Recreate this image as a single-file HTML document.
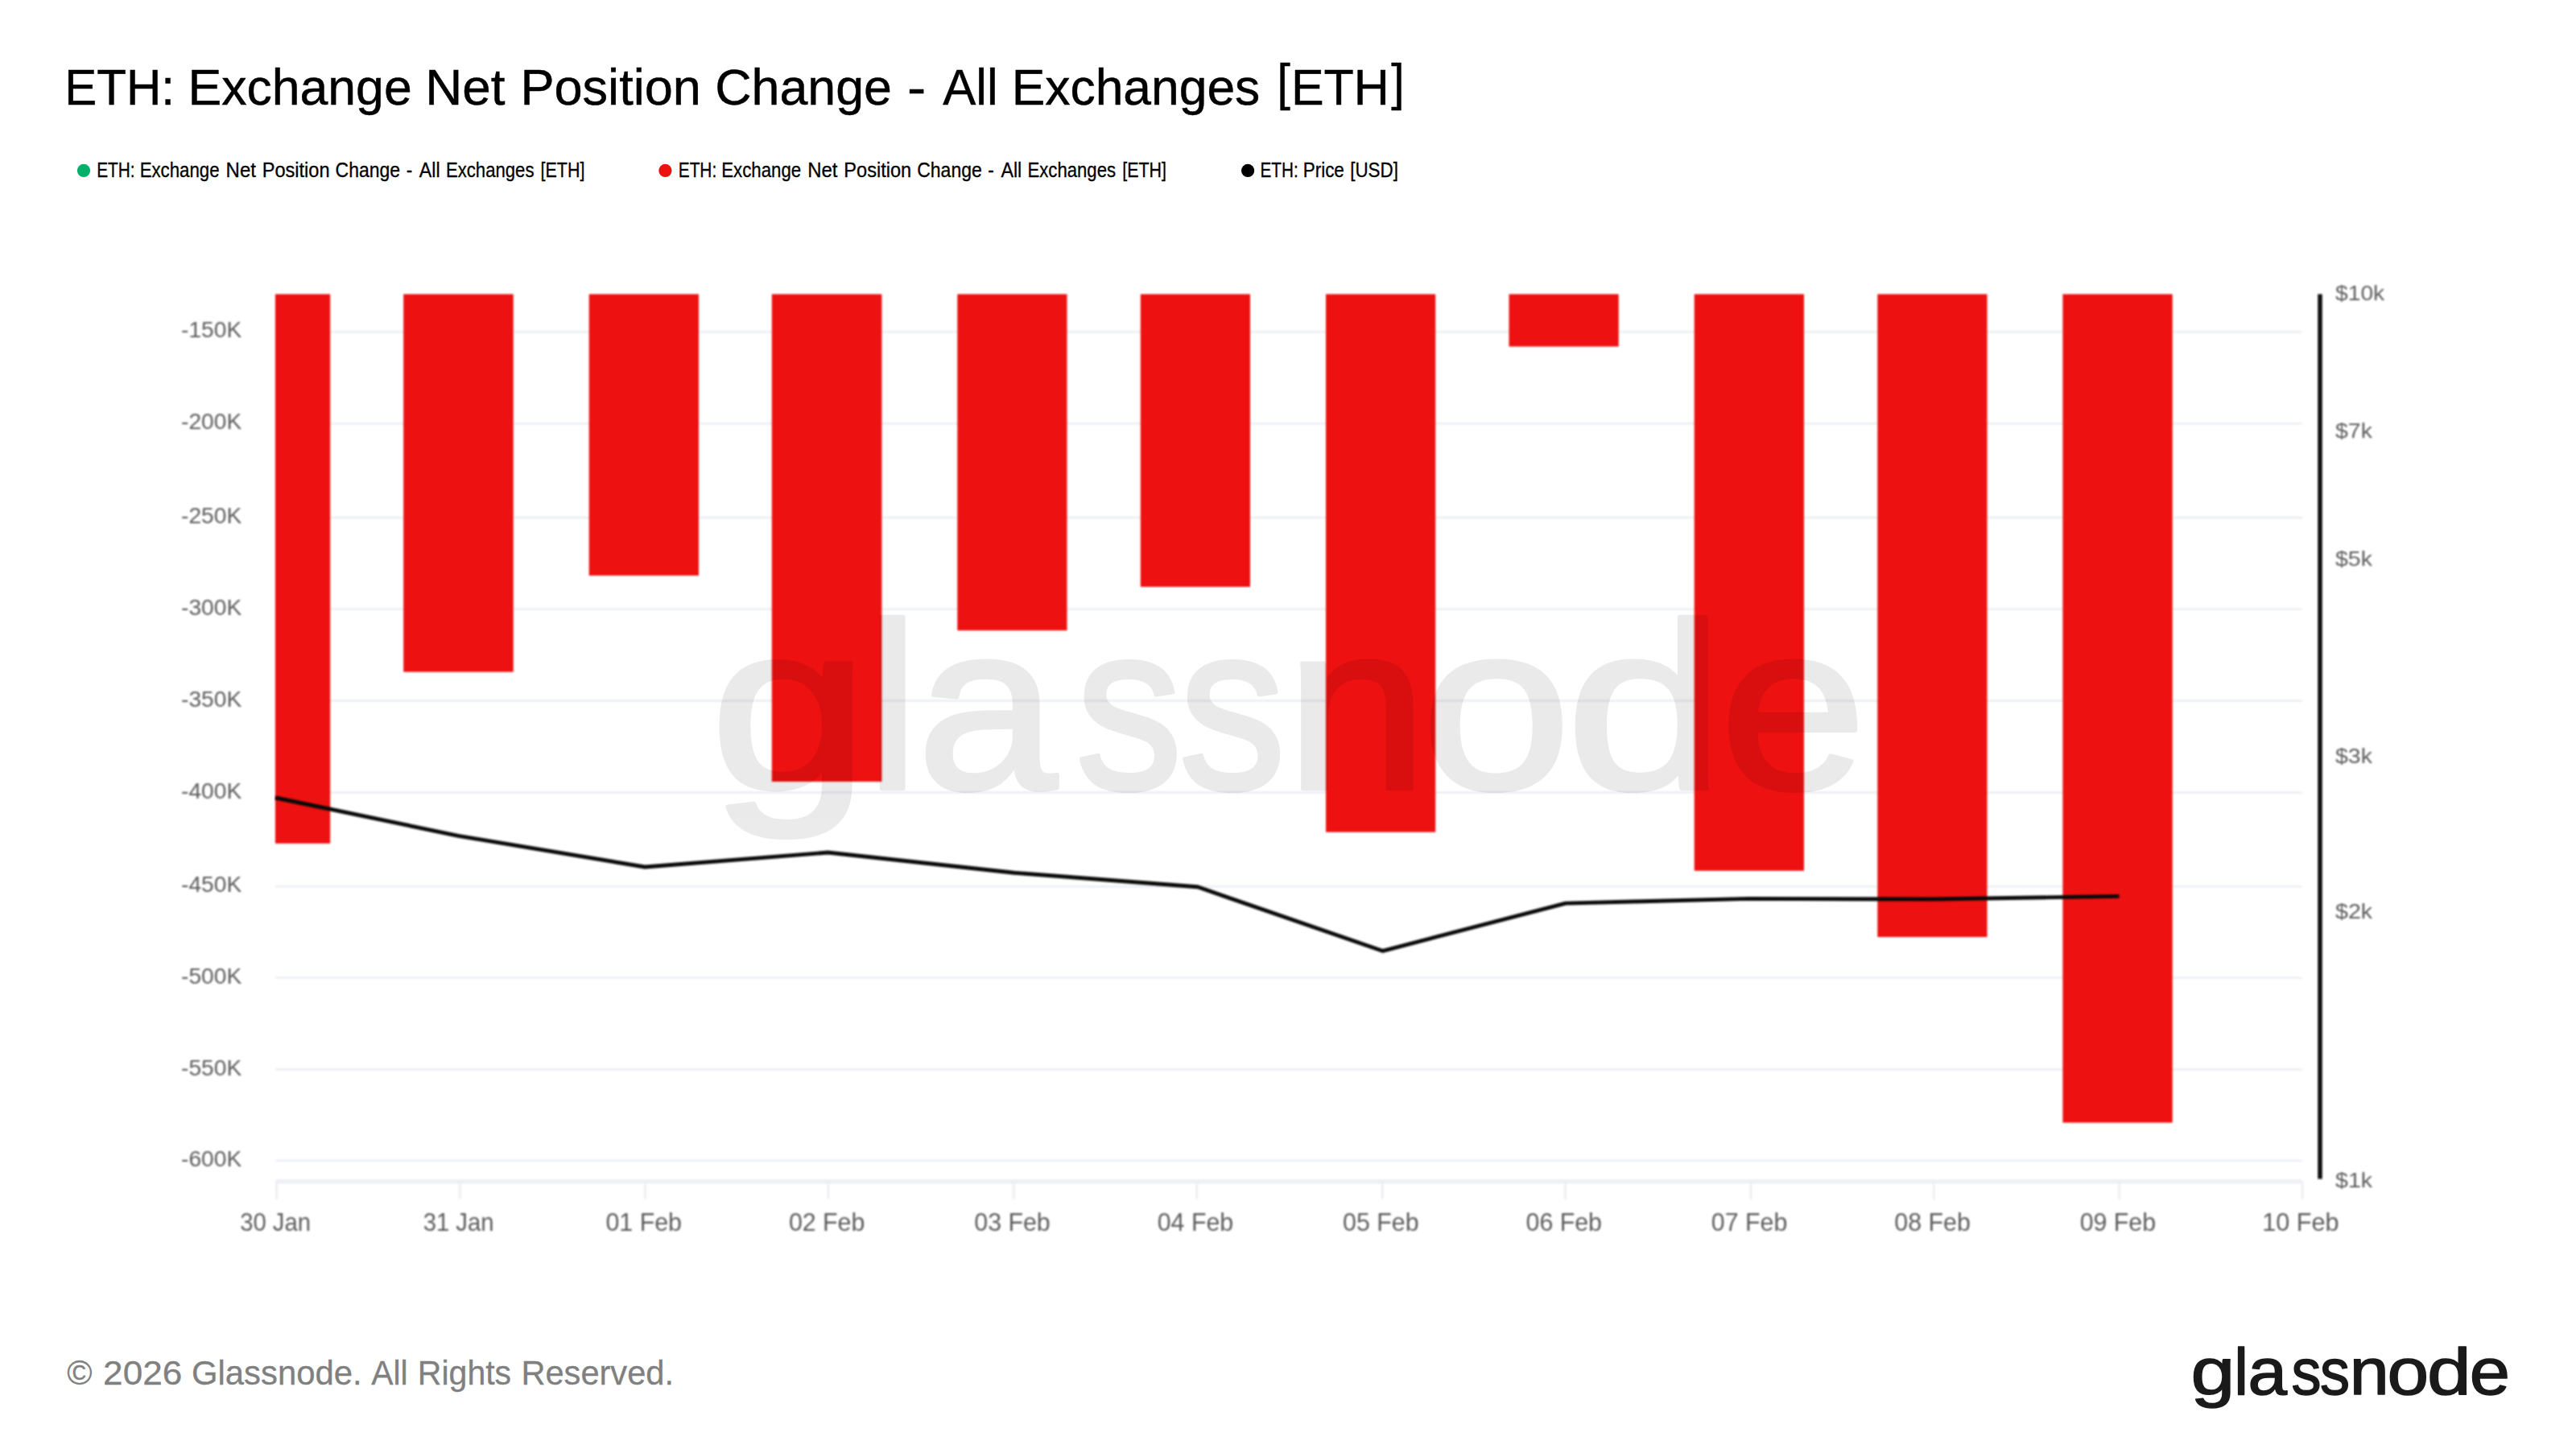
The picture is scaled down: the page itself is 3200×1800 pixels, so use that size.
<!DOCTYPE html>
<html lang="en"><head><meta charset="utf-8"><title>ETH: Exchange Net Position Change - All Exchanges [ETH]</title>
<style>
html,body{margin:0;padding:0;background:#fff;}
body{width:3200px;height:1800px;overflow:hidden;position:relative;font-family:"Liberation Sans",sans-serif;}
svg{position:absolute;left:0;top:0;display:block;}
text{font-family:"Liberation Sans",sans-serif;white-space:pre;}
.ax{filter:url(#soft);}
</style></head><body>
<svg width="3200" height="1800" viewBox="0 0 3200 1800">
<defs><filter id="soft" color-interpolation-filters="sRGB" x="-5%" y="-20%" width="110%" height="140%"><feGaussianBlur stdDeviation="1.0"/></filter>
<clipPath id="wmclip"><rect x="800" y="700" width="1700" height="343.5"/></clipPath>
<filter id="soft3" color-interpolation-filters="sRGB" x="-1%" y="-5%" width="102%" height="110%"><feGaussianBlur stdDeviation="0.8"/></filter>
<filter id="soft2" color-interpolation-filters="sRGB" x="-1%" y="-1%" width="102%" height="102%"><feGaussianBlur stdDeviation="0.85"/></filter></defs>
<rect width="3200" height="1800" fill="#fff"/>
<!-- title -->
<text y="129.9" font-size="63.3" fill="#000" stroke="#000" stroke-width="0.5"><tspan x="80.26" y="129.9" textLength="136.66" lengthAdjust="spacingAndGlyphs">ETH:</tspan> <tspan x="233.46" y="129.9" textLength="278.24" lengthAdjust="spacingAndGlyphs">Exchange</tspan> <tspan x="528.26" y="129.9" textLength="99.24" lengthAdjust="spacingAndGlyphs">Net</tspan> <tspan x="646.42" y="129.9" textLength="224.46" lengthAdjust="spacingAndGlyphs">Position</tspan> <tspan x="888.33" y="129.9" textLength="219.58" lengthAdjust="spacingAndGlyphs">Change</tspan> <tspan x="1127.10" y="129.9" textLength="23.20" lengthAdjust="spacingAndGlyphs">-</tspan> <tspan x="1171.30" y="129.9" textLength="68.43" lengthAdjust="spacingAndGlyphs">All</tspan> <tspan x="1256.78" y="129.9" textLength="308.48" lengthAdjust="spacingAndGlyphs">Exchanges</tspan> <tspan x="1586.48" y="124.1" textLength="16.38" lengthAdjust="spacingAndGlyphs">[</tspan><tspan x="1603.99" y="129.9" textLength="121.85" lengthAdjust="spacingAndGlyphs">ETH</tspan><tspan x="1728.20" y="124.1" textLength="16.38" lengthAdjust="spacingAndGlyphs">]</tspan></text>
<!-- legend -->
<circle cx="104.0" cy="211.9" r="8.1" fill="#00b06b"/><text y="219.6" font-size="25.4" fill="#000" stroke="#000" stroke-width="0.3"><tspan x="120.16" textLength="47.45" lengthAdjust="spacingAndGlyphs">ETH:</tspan> <tspan x="173.65" textLength="98.87" lengthAdjust="spacingAndGlyphs">Exchange</tspan> <tspan x="280.62" textLength="37.23" lengthAdjust="spacingAndGlyphs">Net</tspan> <tspan x="325.74" textLength="83.80" lengthAdjust="spacingAndGlyphs">Position</tspan> <tspan x="416.59" textLength="80.57" lengthAdjust="spacingAndGlyphs">Change</tspan> <tspan x="504.71" textLength="7.50" lengthAdjust="spacingAndGlyphs">-</tspan> <tspan x="520.80" textLength="25.81" lengthAdjust="spacingAndGlyphs">All</tspan> <tspan x="553.96" textLength="109.50" lengthAdjust="spacingAndGlyphs">Exchanges</tspan> <tspan x="671.61" textLength="54.78" lengthAdjust="spacingAndGlyphs">[ETH]</tspan></text>
<circle cx="826.4" cy="211.9" r="8.1" fill="#ed1111"/><text y="219.6" font-size="25.4" fill="#000" stroke="#000" stroke-width="0.3"><tspan x="842.76" textLength="47.45" lengthAdjust="spacingAndGlyphs">ETH:</tspan> <tspan x="896.25" textLength="98.87" lengthAdjust="spacingAndGlyphs">Exchange</tspan> <tspan x="1003.22" textLength="37.23" lengthAdjust="spacingAndGlyphs">Net</tspan> <tspan x="1048.34" textLength="83.80" lengthAdjust="spacingAndGlyphs">Position</tspan> <tspan x="1139.19" textLength="80.57" lengthAdjust="spacingAndGlyphs">Change</tspan> <tspan x="1227.31" textLength="7.50" lengthAdjust="spacingAndGlyphs">-</tspan> <tspan x="1243.40" textLength="25.81" lengthAdjust="spacingAndGlyphs">All</tspan> <tspan x="1276.56" textLength="109.50" lengthAdjust="spacingAndGlyphs">Exchanges</tspan> <tspan x="1394.21" textLength="54.78" lengthAdjust="spacingAndGlyphs">[ETH]</tspan></text>
<circle cx="1550.1" cy="211.9" r="8.1" fill="#000"/><text y="219.6" font-size="25.4" fill="#000" stroke="#000" stroke-width="0.3"><tspan x="1565.57" textLength="47.13" lengthAdjust="spacingAndGlyphs">ETH:</tspan> <tspan x="1618.73" textLength="51.13" lengthAdjust="spacingAndGlyphs">Price</tspan> <tspan x="1677.24" textLength="59.68" lengthAdjust="spacingAndGlyphs">[USD]</tspan></text>
<!-- plot -->
<g filter="url(#soft2)">
<rect x="342" y="410.9" width="2517.5" height="2.85" fill="#edeff4"/>
<rect x="342" y="524.8" width="2517.5" height="2.85" fill="#edeff4"/>
<rect x="342" y="641.5" width="2517.5" height="2.85" fill="#edeff4"/>
<rect x="342" y="755.2" width="2517.5" height="2.85" fill="#edeff4"/>
<rect x="342" y="869.1" width="2517.5" height="2.85" fill="#edeff4"/>
<rect x="342" y="983.0" width="2517.5" height="2.85" fill="#edeff4"/>
<rect x="342" y="1099.8" width="2517.5" height="2.85" fill="#edeff4"/>
<rect x="342" y="1213.2" width="2517.5" height="2.85" fill="#edeff4"/>
<rect x="342" y="1327.0" width="2517.5" height="2.85" fill="#edeff4"/>
<rect x="342" y="1440.4" width="2517.5" height="2.85" fill="#edeff4"/>
<rect x="342" y="1464.9" width="2517.5" height="5.6" fill="#eef0f4"/>
<rect x="342.3" y="1468" width="2.8" height="22" fill="#eeeef1"/>
<rect x="569.8" y="1468" width="2.8" height="22" fill="#eeeef1"/>
<rect x="800.1" y="1468" width="2.8" height="22" fill="#eeeef1"/>
<rect x="1027.5" y="1468" width="2.8" height="22" fill="#eeeef1"/>
<rect x="1257.9" y="1468" width="2.8" height="22" fill="#eeeef1"/>
<rect x="1485.3" y="1468" width="2.8" height="22" fill="#eeeef1"/>
<rect x="1715.7" y="1468" width="2.8" height="22" fill="#eeeef1"/>
<rect x="1943.1" y="1468" width="2.8" height="22" fill="#eeeef1"/>
<rect x="2173.5" y="1468" width="2.8" height="22" fill="#eeeef1"/>
<rect x="2400.9" y="1468" width="2.8" height="22" fill="#eeeef1"/>
<rect x="2631.3" y="1468" width="2.8" height="22" fill="#eeeef1"/>
<rect x="2858.8" y="1468" width="2.8" height="22" fill="#eeeef1"/>
<rect x="341.9" y="365.4" width="68.3" height="682.4" fill="#ed1111"/>
<rect x="501.2" y="365.4" width="136.5" height="469.3" fill="#ed1111"/>
<rect x="731.7" y="365.4" width="136.3" height="349.6" fill="#ed1111"/>
<rect x="958.8" y="365.4" width="136.6" height="605.6" fill="#ed1111"/>
<rect x="1189.3" y="365.4" width="136.2" height="417.8" fill="#ed1111"/>
<rect x="1416.8" y="365.4" width="136.2" height="363.6" fill="#ed1111"/>
<rect x="1647.0" y="365.4" width="136.2" height="668.3" fill="#ed1111"/>
<rect x="1874.5" y="365.4" width="136.2" height="65.1" fill="#ed1111"/>
<rect x="2104.7" y="365.4" width="136.3" height="716.3" fill="#ed1111"/>
<rect x="2332.3" y="365.4" width="136.2" height="798.6" fill="#ed1111"/>
<rect x="2562.4" y="365.4" width="136.3" height="1029.2" fill="#ed1111"/>
<rect x="2879.2" y="365.4" width="5.6" height="1099.1" fill="#111"/>
</g>
<!-- watermark -->
<g opacity="0.08" clip-path="url(#wmclip)"><text y="979.5" font-size="294" fill="#000" stroke="#000" stroke-width="5.5" stroke-linejoin="round"><tspan x="881.93" textLength="197.29" lengthAdjust="spacingAndGlyphs">g</tspan><tspan x="1075.36" textLength="66.46" lengthAdjust="spacingAndGlyphs">l</tspan><tspan x="1139.31" textLength="173.64" lengthAdjust="spacingAndGlyphs">a</tspan><tspan x="1336.08" textLength="132.82" lengthAdjust="spacingAndGlyphs">s</tspan><tspan x="1464.41" textLength="132.82" lengthAdjust="spacingAndGlyphs">s</tspan><tspan x="1597.08" textLength="176.00" lengthAdjust="spacingAndGlyphs">n</tspan><tspan x="1765.67" textLength="186.06" lengthAdjust="spacingAndGlyphs">o</tspan><tspan x="1945.17" textLength="196.86" lengthAdjust="spacingAndGlyphs">d</tspan><tspan x="2136.37" textLength="182.38" lengthAdjust="spacingAndGlyphs">e</tspan></text>
</g>
<polyline points="342.2,991.0 569.5,1038.3 801.2,1077.0 1028.6,1059.0 1260.1,1084.2 1487.8,1101.8 1717.5,1181.3 1944.8,1122.1 2172.5,1116.4 2401.2,1117.0 2632.5,1113.4" fill="none" stroke="#0a0a0a" stroke-width="4.9" stroke-linejoin="round" filter="url(#soft3)"/>
<!-- axis labels -->
<text class="ax" x="225.10" y="419.4" font-size="28.2" fill="#5c5c5c" textLength="75.12" lengthAdjust="spacingAndGlyphs">-150K</text>
<text class="ax" x="225.10" y="533.3" font-size="28.2" fill="#5c5c5c" textLength="75.12" lengthAdjust="spacingAndGlyphs">-200K</text>
<text class="ax" x="225.10" y="650.0" font-size="28.2" fill="#5c5c5c" textLength="75.12" lengthAdjust="spacingAndGlyphs">-250K</text>
<text class="ax" x="225.10" y="763.7" font-size="28.2" fill="#5c5c5c" textLength="75.12" lengthAdjust="spacingAndGlyphs">-300K</text>
<text class="ax" x="225.10" y="877.6" font-size="28.2" fill="#5c5c5c" textLength="75.12" lengthAdjust="spacingAndGlyphs">-350K</text>
<text class="ax" x="225.10" y="991.5" font-size="28.2" fill="#5c5c5c" textLength="75.12" lengthAdjust="spacingAndGlyphs">-400K</text>
<text class="ax" x="225.10" y="1108.3" font-size="28.2" fill="#5c5c5c" textLength="75.12" lengthAdjust="spacingAndGlyphs">-450K</text>
<text class="ax" x="225.10" y="1221.7" font-size="28.2" fill="#5c5c5c" textLength="75.12" lengthAdjust="spacingAndGlyphs">-500K</text>
<text class="ax" x="225.10" y="1335.5" font-size="28.2" fill="#5c5c5c" textLength="75.12" lengthAdjust="spacingAndGlyphs">-550K</text>
<text class="ax" x="225.10" y="1448.9" font-size="28.2" fill="#5c5c5c" textLength="75.12" lengthAdjust="spacingAndGlyphs">-600K</text>
<text class="ax" x="298.19" y="1529.3" font-size="32.0" fill="#5c5c5c" textLength="87.81" lengthAdjust="spacingAndGlyphs">30 Jan</text>
<text class="ax" x="525.64" y="1529.3" font-size="32.0" fill="#5c5c5c" textLength="87.81" lengthAdjust="spacingAndGlyphs">31 Jan</text>
<text class="ax" x="752.45" y="1529.3" font-size="32.0" fill="#5c5c5c" textLength="94.49" lengthAdjust="spacingAndGlyphs">01 Feb</text>
<text class="ax" x="979.90" y="1529.3" font-size="32.0" fill="#5c5c5c" textLength="94.49" lengthAdjust="spacingAndGlyphs">02 Feb</text>
<text class="ax" x="1210.25" y="1529.3" font-size="32.0" fill="#5c5c5c" textLength="94.49" lengthAdjust="spacingAndGlyphs">03 Feb</text>
<text class="ax" x="1437.70" y="1529.3" font-size="32.0" fill="#5c5c5c" textLength="94.49" lengthAdjust="spacingAndGlyphs">04 Feb</text>
<text class="ax" x="1668.05" y="1529.3" font-size="32.0" fill="#5c5c5c" textLength="94.49" lengthAdjust="spacingAndGlyphs">05 Feb</text>
<text class="ax" x="1895.50" y="1529.3" font-size="32.0" fill="#5c5c5c" textLength="94.49" lengthAdjust="spacingAndGlyphs">06 Feb</text>
<text class="ax" x="2125.85" y="1529.3" font-size="32.0" fill="#5c5c5c" textLength="94.49" lengthAdjust="spacingAndGlyphs">07 Feb</text>
<text class="ax" x="2353.30" y="1529.3" font-size="32.0" fill="#5c5c5c" textLength="94.49" lengthAdjust="spacingAndGlyphs">08 Feb</text>
<text class="ax" x="2583.65" y="1529.3" font-size="32.0" fill="#5c5c5c" textLength="94.49" lengthAdjust="spacingAndGlyphs">09 Feb</text>
<text class="ax" x="2810.13" y="1529.3" font-size="32.0" fill="#5c5c5c" textLength="95.47" lengthAdjust="spacingAndGlyphs">10 Feb</text>
<text class="ax" x="2901.04" y="373.4" font-size="26.5" fill="#5c5c5c" textLength="61.16" lengthAdjust="spacingAndGlyphs">$10k</text>
<text class="ax" x="2901.03" y="544.0" font-size="26.5" fill="#5c5c5c" textLength="45.86" lengthAdjust="spacingAndGlyphs">$7k</text>
<text class="ax" x="2901.03" y="703.4" font-size="26.5" fill="#5c5c5c" textLength="45.86" lengthAdjust="spacingAndGlyphs">$5k</text>
<text class="ax" x="2901.03" y="948.0" font-size="26.5" fill="#5c5c5c" textLength="45.86" lengthAdjust="spacingAndGlyphs">$3k</text>
<text class="ax" x="2901.02" y="1141.4" font-size="26.5" fill="#5c5c5c" textLength="46.07" lengthAdjust="spacingAndGlyphs">$2k</text>
<text class="ax" x="2901.02" y="1474.7" font-size="26.5" fill="#5c5c5c" textLength="46.07" lengthAdjust="spacingAndGlyphs">$1k</text>
<!-- footer -->
<text y="1719.8" font-size="42.0" fill="#808080" stroke="#808080" stroke-width="0.3"><tspan x="83.20" textLength="31.26" lengthAdjust="spacingAndGlyphs">©</tspan> <tspan x="128.10" textLength="98.21" lengthAdjust="spacingAndGlyphs">2026</tspan> <tspan x="238.01" textLength="211.65" lengthAdjust="spacingAndGlyphs">Glassnode.</tspan> <tspan x="461.30" textLength="45.41" lengthAdjust="spacingAndGlyphs">All</tspan> <tspan x="518.87" textLength="116.27" lengthAdjust="spacingAndGlyphs">Rights</tspan> <tspan x="647.43" textLength="189.56" lengthAdjust="spacingAndGlyphs">Reserved.</tspan></text>
<text y="1731.9" font-size="82.2" fill="#1a1a1a" stroke="#1a1a1a" stroke-width="1.5" stroke-linejoin="round"><tspan x="2721.60" textLength="54.86" lengthAdjust="spacingAndGlyphs">g</tspan><tspan x="2775.17" textLength="17.66" lengthAdjust="spacingAndGlyphs">l</tspan><tspan x="2792.61" textLength="48.59" lengthAdjust="spacingAndGlyphs">a</tspan><tspan x="2846.59" textLength="37.10" lengthAdjust="spacingAndGlyphs">s</tspan><tspan x="2881.99" textLength="37.10" lengthAdjust="spacingAndGlyphs">s</tspan><tspan x="2918.84" textLength="49.02" lengthAdjust="spacingAndGlyphs">n</tspan><tspan x="2965.41" textLength="51.66" lengthAdjust="spacingAndGlyphs">o</tspan><tspan x="3014.91" textLength="54.74" lengthAdjust="spacingAndGlyphs">d</tspan><tspan x="3067.70" textLength="50.29" lengthAdjust="spacingAndGlyphs">e</tspan></text>
</svg>
</body></html>
